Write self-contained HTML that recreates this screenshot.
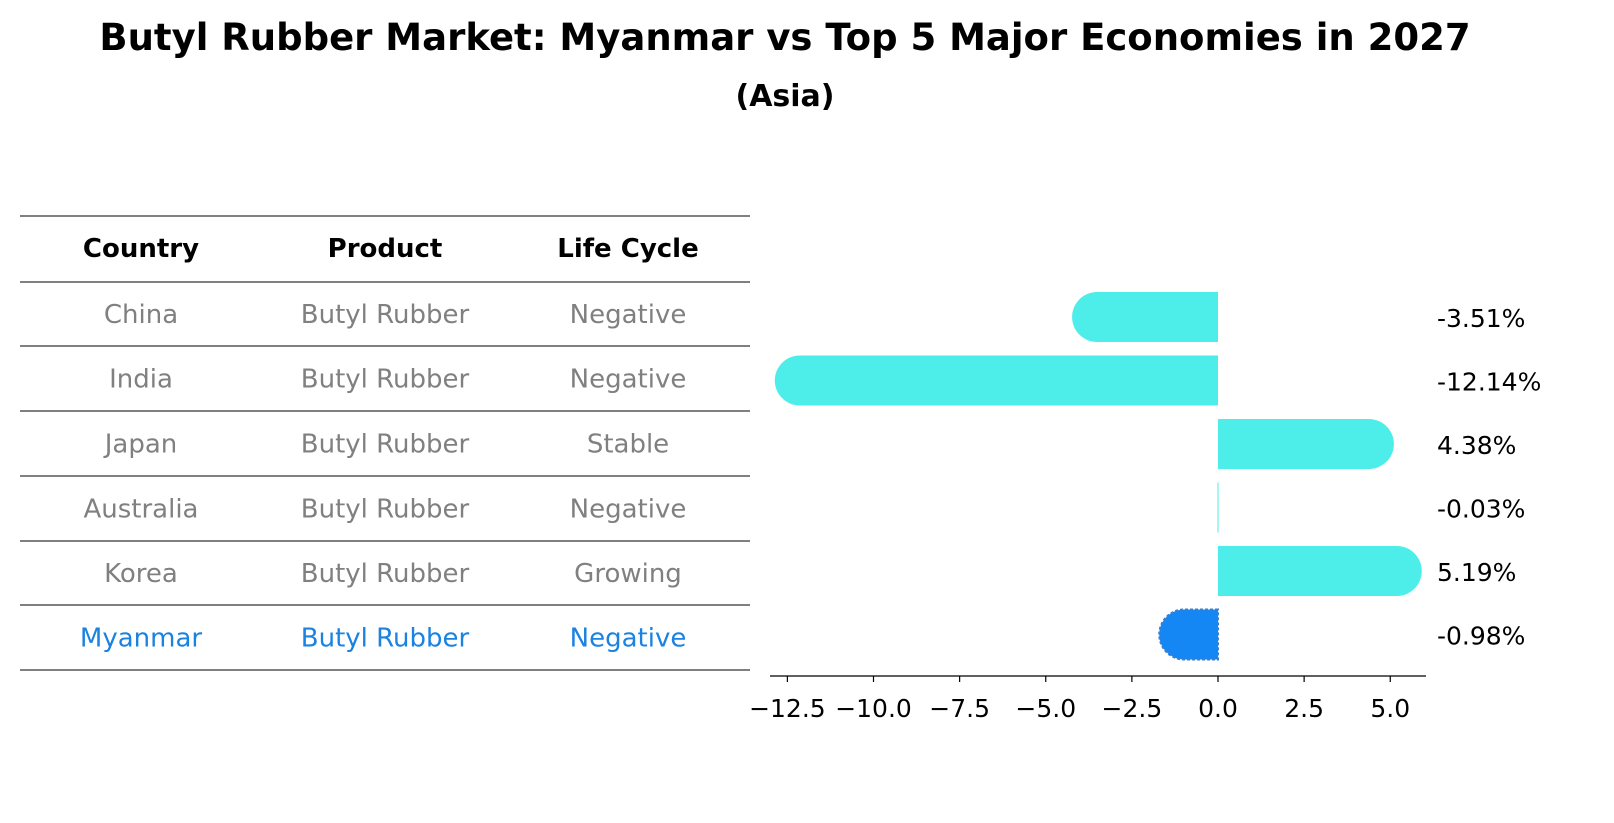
<!DOCTYPE html>
<html><head><meta charset="utf-8">
<style>
body{margin:0;background:#fff;font-family:"Liberation Sans","DejaVu Sans",sans-serif;}
#wrap{position:relative;width:1614px;height:823px;overflow:hidden;}
</style></head>
<body>
<div id="wrap">
<svg id="svg" width="1614" height="823" xmlns="http://www.w3.org/2000/svg" font-family="DejaVu Sans, Liberation Sans, sans-serif">
<text x="785" y="50" text-anchor="middle" font-size="37" font-weight="bold">Butyl Rubber Market: Myanmar vs Top 5 Major Economies in 2027</text>
<text x="785" y="106" text-anchor="middle" font-size="30" font-weight="bold">(Asia)</text>
<g id="table"></g>
<g id="bars"></g>
</svg>
</div>
<script>
const countries=["China","India","Japan","Australia","Korea","Myanmar"];
const products=["Butyl Rubber","Butyl Rubber","Butyl Rubber","Butyl Rubber","Butyl Rubber","Butyl Rubber"];
const lifeCycle=["Negative","Negative","Stable","Negative","Growing","Negative"];
const values=[-3.51,-12.14,4.38,-0.03,5.19,-0.98];
const tickValues=[-12.5,-10.0,-7.5,-5.0,-2.5,0.0,2.5,5.0];
const tickLabels=["\u221212.5","\u221210.0","\u22127.5","\u22125.0","\u22122.5","0.0","2.5","5.0"];

const NS="http://www.w3.org/2000/svg";
function mk(tag,attrs,parent,txt){const e=document.createElementNS(NS,tag);for(const k in attrs)e.setAttribute(k,attrs[k]);if(txt!==undefined)e.textContent=txt;parent.appendChild(e);return e;}
const x=v=>1218+v*34.45;
const rowY=i=>317+i*63.5;
const bh=50;

// table
const tb=document.getElementById('table');
const lines=[216,282,346,411,476,541,605,670];
lines.forEach((ly,i)=>{const l=mk('line',{x1:20,x2:750,y1:ly,y2:ly,stroke:'#000','stroke-width':1},tb);
});
const cx=[141,385,628];
["Country","Product","Life Cycle"].forEach((h,j)=>{const t=mk('text',{x:cx[j],y:257,'text-anchor':'middle','font-size':26,'font-weight':'bold'},tb,h);
});
countries.forEach((c,i)=>{const col=c==="Myanmar"?"#1a82e0":"#808080";const yy=(lines[i+1]+lines[i+2])/2+9;
[c,products[i],lifeCycle[i]].forEach((s,j)=>{const t=mk('text',{x:cx[j],y:yy,'text-anchor':'middle','font-size':26,fill:col},tb,s);
});});

// bars
const g=document.getElementById('bars');
values.forEach((v,i)=>{const my=countries[i]==="Myanmar";const col=my?"#1487f5":"#4deeea";
const x0=x(0),x1=x(v),cy=rowY(i),r=bh/2;const dir=v<0?-1:1;
const w=Math.abs(x1-x0);
let d;
if(w<2){d=`M${x0-0.5},${cy-r}h1v${bh}h-1z`;}
else{d=`M${x0},${cy-r}L${x1},${cy-r}A${r},${r} 0 0 ${dir<0?0:1} ${x1},${cy+r}L${x0},${cy+r}Z`;}
const p=mk('path',{d:d,fill:col},g);
if(my){p.setAttribute('stroke','#3a7fd0');p.setAttribute('stroke-width','2');p.setAttribute('stroke-dasharray','3,2');}

const t=mk('text',{x:1437,y:cy+10,'font-size':25},g,v.toFixed(2)+"%");
});
const ax=mk('line',{x1:770,x2:1426,y1:676,y2:676,stroke:'#000','stroke-width':1.2},g);

tickValues.forEach((tv,i)=>{const tk=mk('line',{x1:x(tv),x2:x(tv),y1:676,y2:682,stroke:'#000','stroke-width':1.2},g);

const t=mk('text',{x:x(tv),y:717,'text-anchor':'middle','font-size':25},g,tickLabels[i]);
});
</script>
</body></html>
